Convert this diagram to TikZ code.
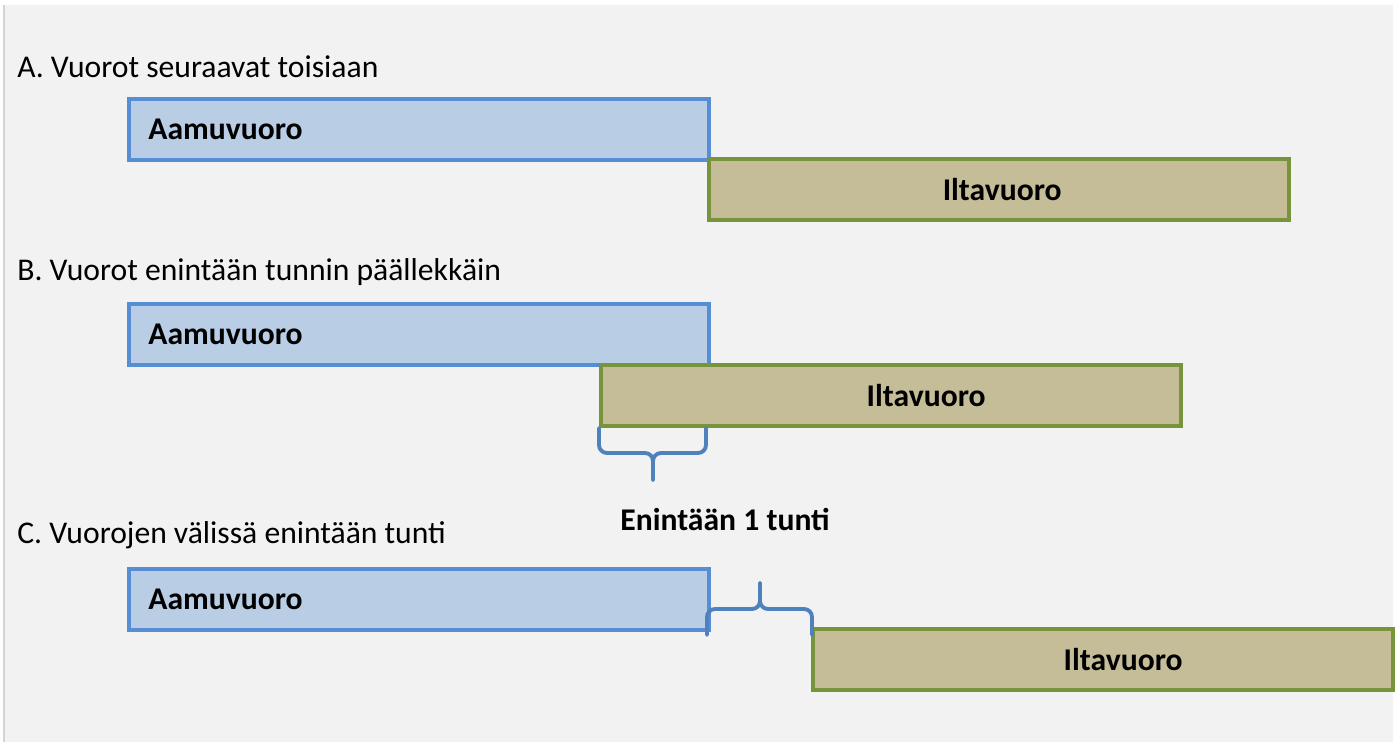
\documentclass[tikz,border=0pt]{standalone}
\usepackage{fontspec}
\setmainfont{Carlito}
\usetikzlibrary{positioning}
\definecolor{paneFill}{HTML}{F2F2F2}
\definecolor{paneEdge}{HTML}{D4D4D4}
\definecolor{aamuFill}{HTML}{B9CDE5}
\definecolor{aamuLine}{HTML}{558ED5}
\definecolor{iltaFill}{HTML}{C4BD97}
\definecolor{iltaLine}{HTML}{77933C}
\definecolor{braceLine}{HTML}{4F81BD}
\tikzstyle{shiftBox} = [rectangle, anchor=north west, minimum width=11.6cm, minimum height=1.22cm, inner sep=0pt, line width=2.5pt]
\tikzstyle{aamuBox} = [shiftBox, fill=aamuFill, draw=aamuLine]
\tikzstyle{iltaBox} = [shiftBox, fill=iltaFill, draw=iltaLine]
\tikzstyle{caseTitle} = [anchor=base west, inner sep=0pt, font=\fontsize{18}{22}\selectfont]
\tikzstyle{boxText} = [inner sep=0pt, font=\bfseries\fontsize{18}{22}\selectfont]
\tikzstyle{brace} = [draw=braceLine, line width=2.2pt, rounded corners=0.16cm, line cap=round]

\begin{document}
\begin{tikzpicture}[x=0.02cm, y=-0.02cm]
    \useasboundingbox (0,0) rectangle (1398,742);
    \fill [paneFill] (4,5) rectangle (1393,742);
    \draw [paneEdge, line width=0.6pt] (4,742) -- (4,5);

    % A
    \node (titleA) [caseTitle] at (17,78) {A. Vuorot seuraavat toisiaan};
    \node (aamuA) [aamuBox] at (127,97) {};
    \node (iltaA) [iltaBox] at (707,157) {};
    \node (aamuTextA) [boxText, right=0.42cm of aamuA.west, anchor=west] {Aamuvuoro};
    \node (iltaTextA) [boxText, xshift=0.06cm] at (iltaA.center) {Iltavuoro};

    % B
    \node (titleB) [caseTitle] at (17,281) {B. Vuorot enintään tunnin päällekkäin};
    \node (aamuB) [aamuBox] at (127,302) {};
    \node (iltaB) [iltaBox] at (599,363) {};
    \node (aamuTextB) [boxText, right=0.42cm of aamuB.west, anchor=west] {Aamuvuoro};
    \node (iltaTextB) [boxText, xshift=0.7cm] at (iltaB.center) {Iltavuoro};
    \coordinate (braceLeftB) at (599,428);
    \coordinate (braceRightB) at (706,428);
    \coordinate (braceMidB) at (653,453);
    \coordinate (braceTipB) at (653,480);
    \draw [brace] (braceLeftB) |- (braceMidB) -- (braceTipB);
    \draw [brace] (braceRightB) |- (braceMidB) -- (braceTipB);
    \node (gapNote) [boxText, anchor=base] at (725,530) {Enintään 1 tunti};

    % C
    \node (titleC) [caseTitle] at (17,543) {C. Vuorojen välissä enintään tunti};
    \node (aamuC) [aamuBox] at (127,567) {};
    \node (iltaC) [iltaBox] at (811,627) {};
    \node (aamuTextC) [boxText, right=0.42cm of aamuC.west, anchor=west] {Aamuvuoro};
    \node (iltaTextC) [boxText, xshift=0.4cm] at (iltaC.center) {Iltavuoro};
    \coordinate (braceLeftC) at (707,635);
    \coordinate (braceRightC) at (812,635);
    \coordinate (braceMidC) at (760,609);
    \coordinate (braceTipC) at (760,583);
    \draw [brace] (braceLeftC) |- (braceMidC) -- (braceTipC);
    \draw [brace] (braceRightC) |- (braceMidC) -- (braceTipC);
\end{tikzpicture}
\end{document}
